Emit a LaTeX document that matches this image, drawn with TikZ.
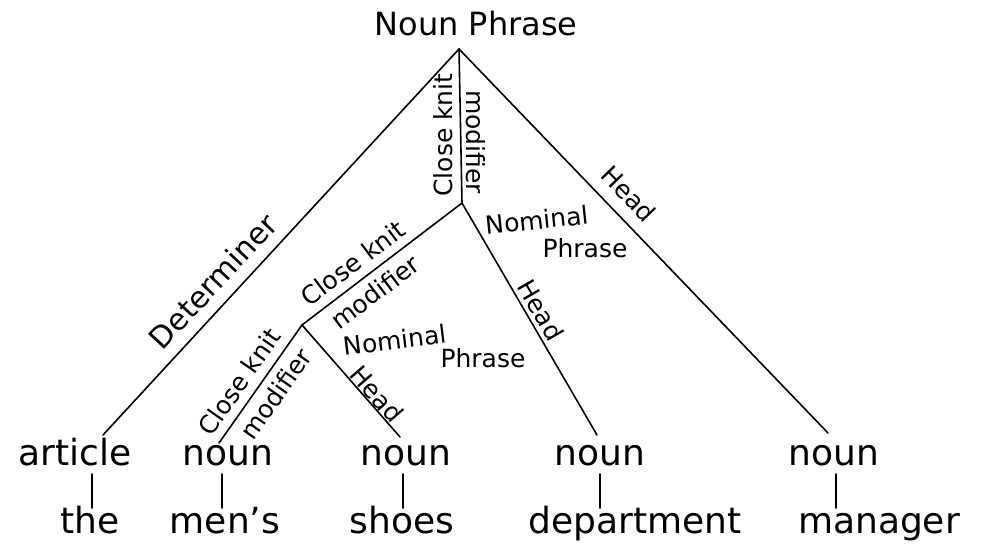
\documentclass[tikz,border=0pt]{standalone}
\usepackage{fontspec}
\setmainfont{DejaVu Sans}
\begin{document}
\begin{tikzpicture}[x=1pt,y=1pt,
  edge/.style={line width=1.6pt, line cap=round},
  lbl/.style={font=\fontsize{25}{30}\selectfont, inner sep=0pt},
  word/.style={font=\fontsize{36}{40}\selectfont, anchor=base, inner sep=0pt},
  titletext/.style={font=\fontsize{32}{36}\selectfont, inner sep=0pt}]
\useasboundingbox (0,0) rectangle (982,550);
\fill[white] (0,0) rectangle (982,550);
% tree points
\coordinate (np) at (459,501);
\coordinate (nom1) at (462,347);
\coordinate (nom2) at (302,225);
\coordinate (artT) at (103,115);
\coordinate (mensT) at (219,107);
\coordinate (shoesT) at (400,113);
\coordinate (deptT) at (597,115);
\coordinate (mgrT) at (828,117);
% title
\node[titletext] (nptext) at (476,526) {Noun Phrase};
% category row
\node[word] (art) at (75,85) {article};
\node[word] (n1) at (228,85) {noun};
\node[word] (n2) at (406,85) {noun};
\node[word] (n3) at (600,85) {noun};
\node[word] (n4) at (834,85) {noun};
% word row
\node[word] (w1) at (90,17) {the};
\node[word] (w2) at (225,17) {men's};
\node[word] (w3) at (402,17) {shoes};
\node[word] (w4) at (635,17) {department};
\node[word] (w5) at (879,17) {manager};
% tick ends
\coordinate (t1a) at (92,76);  \coordinate (t1b) at (92,42);
\coordinate (t2a) at (222,76); \coordinate (t2b) at (222,42);
\coordinate (t3a) at (403,76); \coordinate (t3b) at (403,42);
\coordinate (t4a) at (600,76); \coordinate (t4b) at (600,42);
\coordinate (t5a) at (836,76); \coordinate (t5b) at (836,42);
% edges
\draw[edge] (np) -- (artT);
\draw[edge] (np) -- (nom1);
\draw[edge] (np) -- (mgrT);
\draw[edge] (nom1) -- (nom2);
\draw[edge] (nom1) -- (deptT);
\draw[edge] (nom2) -- (mensT);
\draw[edge] (nom2) -- (shoesT);
\draw[edge] (t1a) -- (t1b);
\draw[edge] (t2a) -- (t2b);
\draw[edge] (t3a) -- (t3b);
\draw[edge] (t4a) -- (t4b);
\draw[edge] (t5a) -- (t5b);
% edge labels
\node[lbl, font=\fontsize{30}{34}\selectfont, rotate=47] (l1) at (213,269) {Determiner};
\node[lbl, rotate=90] (l2) at (443,415) {Close knit};
\node[lbl, rotate=-90] (l3) at (476,408) {modifier};
\node[lbl, rotate=-46] (l4) at (629,356) {Head};
\node[lbl, rotate=6] (l5) at (537,330) {Nominal};
\node[lbl] (l6) at (585,302) {Phrase};
\node[lbl, rotate=-60] (l7) at (541,240) {Head};
\node[lbl, rotate=37] (l8) at (353,287) {Close knit};
\node[lbl, rotate=37] (l9) at (375,258) {modifier};
\node[lbl, rotate=7] (l10) at (395,210) {Nominal};
\node[lbl] (l11) at (483,192) {Phrase};
\node[lbl, rotate=-49] (l12) at (377,156) {Head};
\node[lbl, rotate=55] (l13) at (239,168) {Close knit};
\node[lbl, rotate=55] (l14) at (276,156) {modifier};
\end{tikzpicture}
\end{document}
